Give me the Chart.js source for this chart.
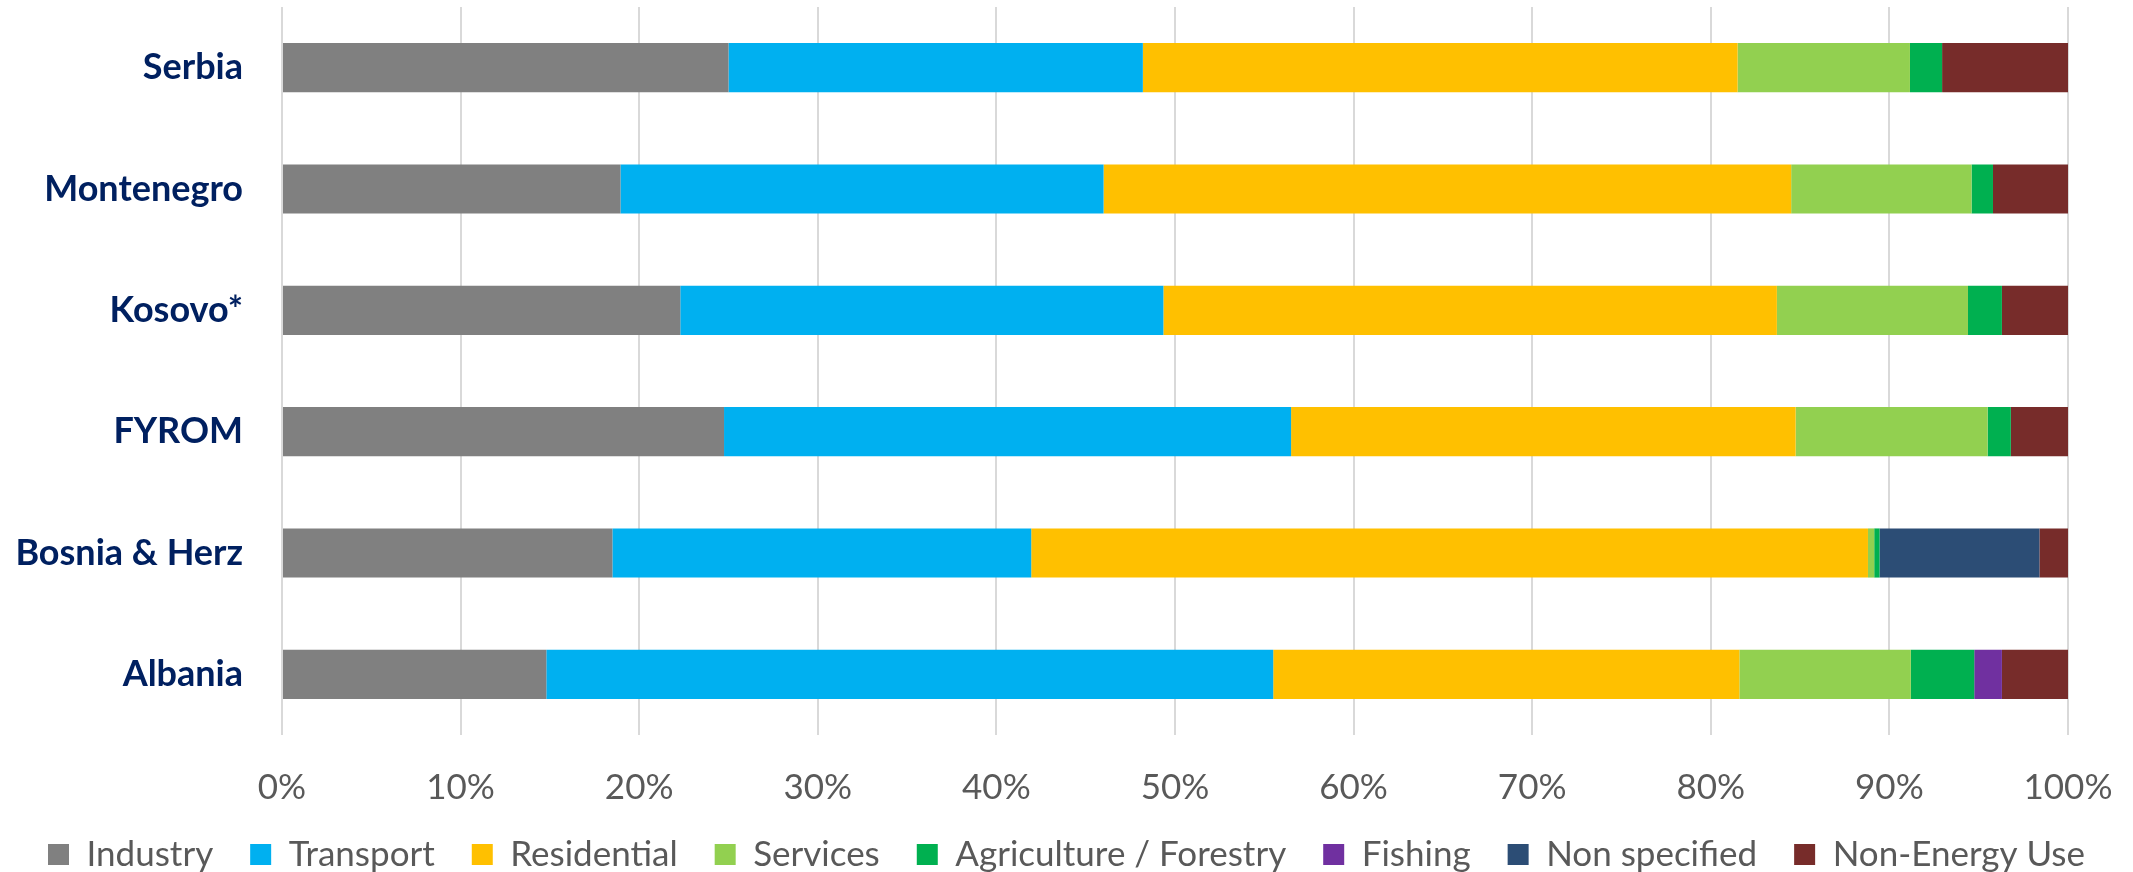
<!DOCTYPE html>
<html>
<head>
<meta charset="utf-8">
<script src="https://cdn.jsdelivr.net/npm/chart.js@4.4.1/dist/chart.umd.min.js"></script>
<style>
  html, body { margin: 0; padding: 0; background: #fff; overflow: hidden; }
  canvas { display: block; }
</style>
</head>
<body>
<canvas id="energyChart" width="2133" height="872"></canvas>
<script>
// Final energy consumption shares by sector (%)
const countries = ['Serbia', 'Montenegro', 'Kosovo*', 'FYROM', 'Bosnia & Herz', 'Albania'];
const sectors = ['Industry', 'Transport', 'Residential', 'Services', 'Agriculture / Forestry', 'Fishing', 'Non specified', 'Non-Energy Use'];
const sectorColors = ['#808080', '#00B0F0', '#FFC000', '#92D050', '#00B050', '#7030A0', '#2C4D75', '#772C2A'];

const industry     = [25.0, 18.95, 22.3, 24.75, 18.5, 14.8];
const transport    = [23.2, 27.05, 27.05, 31.75, 23.45, 40.7];
const residential  = [33.3, 38.5, 34.35, 28.25, 46.85, 26.1];
const services     = [9.65, 10.1, 10.7, 10.75, 0.35, 9.6];
const agriculture  = [1.8, 1.2, 1.9, 1.3, 0.3, 3.55];
const fishing      = [0, 0, 0, 0, 0, 1.55];
const nonSpecified = [0, 0, 0, 0, 8.95, 0];
const nonEnergy    = [7.05, 4.2, 3.7, 3.2, 1.6, 3.7];

const xTickLabels = ['0%', '10%', '20%', '30%', '40%', '50%', '60%', '70%', '80%', '90%', '100%'];

const seriesValues = [industry, transport, residential, services, agriculture, fishing, nonSpecified, nonEnergy];

// fixed axis sizes, and no extra label padding pushing the plot area around
function fixSize(prop, size) {
    return (scale) => {
        scale[prop] = size;
        scale.paddingTop = 0;
        scale.paddingBottom = 0;
        scale.paddingLeft = 0;
        scale.paddingRight = 0;
    };
}

const ctx = document.getElementById('energyChart').getContext('2d');
new Chart(ctx, {
    type: 'bar',
    data: {
        labels: countries,
        datasets: sectors.map((name, i) => ({
            label: name,
            data: seriesValues[i],
            backgroundColor: sectorColors[i],
            borderWidth: 0,
            barPercentage: 0.81,
            categoryPercentage: 0.5
        }))
    },
    options: {
        indexAxis: 'y',
        responsive: false,
        devicePixelRatio: 1,
        animation: false,
        layout: {
            padding: { left: 0, right: 0, top: 7, bottom: -10 }
        },
        scales: {
            x: {
                stacked: true,
                min: 0,
                max: 100,
                grid: { color: '#D9D9D9', lineWidth: 2, drawTicks: false },
                border: { display: false },
                ticks: {
                    stepSize: 10,
                    padding: 32,
                    maxRotation: 0,
                    color: '#595959',
                    font: { family: 'Lato', size: 35 },
                    callback: (v, i) => xTickLabels[i]
                },
                afterFit: fixSize('height', 65)
            },
            y: {
                stacked: true,
                grid: { display: false, drawTicks: false },
                border: { display: false },
                ticks: {
                    padding: 39,
                    color: '#002060',
                    font: { family: 'Lato', size: 36, weight: 'bold' }
                },
                afterFit: fixSize('width', 282)
            },
            yRight: {
                type: 'category',
                position: 'right',
                grid: { display: false, drawTicks: false },
                border: { display: false },
                ticks: { display: false },
                afterFit: fixSize('width', 65)
            }
        },
        plugins: {
            legend: {
                position: 'bottom',
                labels: {
                    boxWidth: 21,
                    boxHeight: 21,
                    padding: 37,
                    color: '#595959',
                    font: { family: 'Lato', size: 35 }
                }
            },
            tooltip: { enabled: false }
        }
    }
});
</script>
</body>
</html>
